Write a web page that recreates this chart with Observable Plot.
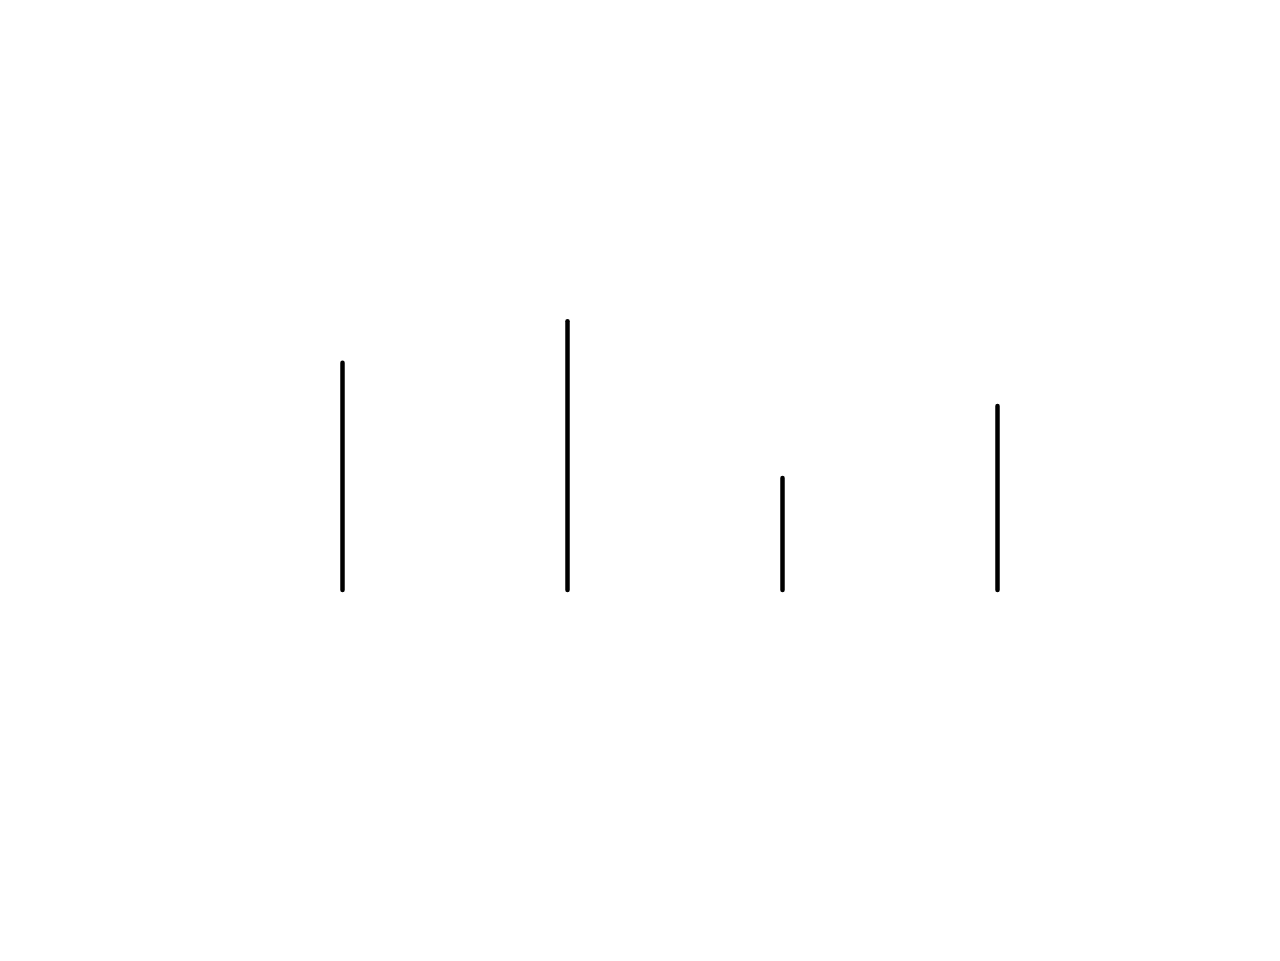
<!DOCTYPE html>
<html>
<head>
<meta charset="utf-8">
<script src="https://cdn.jsdelivr.net/npm/d3@7"></script>
<script src="https://cdn.jsdelivr.net/npm/@observablehq/plot@0.6"></script>
<style>
  html, body { margin: 0; padding: 0; background: #fff; }
</style>
</head>
<body>
<div id="chart"></div>
<script>
const positions = [0, 45, 88, 131];
const values = [56.8, 67.2, 28, 46];

const data = positions.map((p, i) => ({x: p, y: values[i]}));

const chart = Plot.plot({
  width: 1280,
  height: 961,
  margin: 0,
  x: {domain: [0, 131], range: [342, 997], axis: null},
  y: {domain: [0, 67], range: [590, 322], axis: null},
  marks: [
    Plot.ruleX(data, {x: "x", y1: 0, y2: "y", stroke: "black", strokeWidth: 4.5, strokeLinecap: "round"})
  ]
});
document.getElementById("chart").appendChild(chart);
</script>
</body>
</html>
